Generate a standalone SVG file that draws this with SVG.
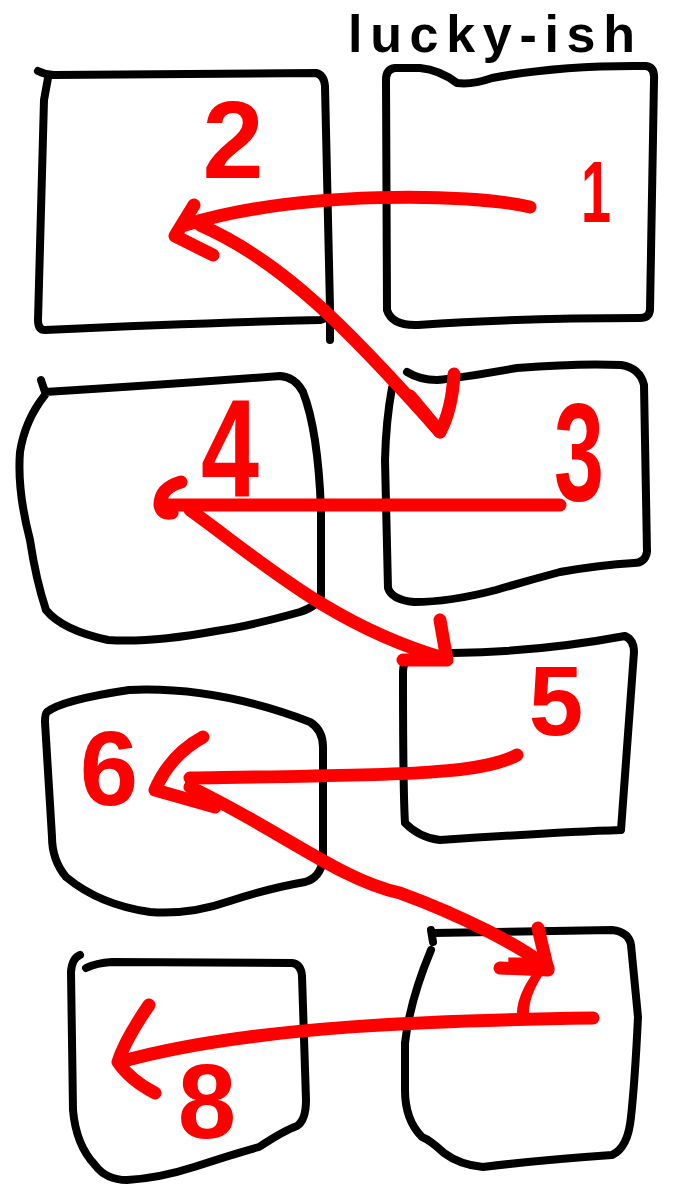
<svg xmlns="http://www.w3.org/2000/svg" width="675" height="1200" viewBox="0 0 675 1200">
<style>
.box{fill:none;stroke:#000;stroke-width:8;stroke-linecap:round;stroke-linejoin:round}
.arr{fill:none;stroke:#ff0000;stroke-width:13;stroke-linecap:round;stroke-linejoin:round}
.num{fill:#ff0000;font-family:"Liberation Sans",Arial,sans-serif;font-weight:bold;text-anchor:middle}
.title{fill:#000;font-family:"Liberation Sans",Arial,sans-serif;font-weight:bold}
</style>
<rect width="675" height="1200" fill="#fff"/>
<text class="title" x="348" y="52" font-size="52" textLength="287" lengthAdjust="spacing">lucky-ish</text>

<g id="node-1">
<path class="box" d="M386,80 Q386,69 395,68 L420,68 Q440,70 457,83 Q472,85 492,78 Q560,65 646,66 Q655,67 654,80 L650,310 Q649,318 640,318 Q520,318 418,325 Q392,326 387,310 Z"/>
<text class="num" x="596" y="222" font-size="88" textLength="30" lengthAdjust="spacingAndGlyphs">1</text>
</g>
<g id="node-2">
<path class="box" d="M38,71 Q46,75 54,75 L316,73 Q324,75 325,86 L330,308 Q330,318 320,320 Q200,323 45,330 Q38,330 38,320 L44,100 L48,78"/>
<path class="box" d="M330,318 L330,340"/>
<text class="num" x="233" y="178" font-size="110">2</text>
</g>
<g id="node-3">
<path class="box" d="M407,372 Q420,380 437,380 Q460,378 517,368 Q580,363 621,365 Q640,368 644,385 L647,552 Q645,563 634,563 Q600,565 560,572 Q530,580 496,590 Q450,602 414,602 Q392,600 388,588 L385,460 Q386,420 392,388"/>
<text class="num" x="579" y="500" font-size="140" textLength="50" lengthAdjust="spacingAndGlyphs">3</text>
</g>
<g id="node-4">
<path class="box" d="M41,380 L45,392 Q160,385 280,376 Q295,377 303,392 Q318,430 321,510 L321,596 Q318,606 300,612 Q250,626 216,631 Q150,643 108,640 Q62,630 46,610 Q36,580 30,540 Q17,490 20,452 Q25,420 45,395"/>
<text class="num" x="230" y="497" font-size="140" textLength="58" lengthAdjust="spacingAndGlyphs">4</text>
</g>
<g id="node-5">
<path class="box" d="M453,653 Q539,652 625,636 Q634,640 634,652 L621,830 Q560,832 440,840 Q420,838 405,823 Q403,790 403,672 Q403,656 420,655 L453,653"/>
<text class="num" x="556" y="735" font-size="98">5</text>
</g>
<g id="node-6">
<path class="box" d="M47,712 Q62,700 129,690 Q216,686 310,722 Q323,730 323,747 L323,860 Q320,878 305,882 Q270,888 230,901 Q190,915 150,912 Q100,905 66,877 Q52,860 52,837 L45,722 Q45,714 47,712"/>
<text class="num" x="109" y="805" font-size="105">6</text>
</g>
<g id="node-7">
<path class="box" d="M431,930 L433,942 M433,933 L612,930 Q629,932 631,945 L638,1017 Q635,1080 631,1117 Q628,1148 612,1155 Q540,1160 483,1167 Q460,1165 444,1153 Q430,1140 422,1137 Q405,1120 405,1090 L405,1043 Q410,1000 431,950"/>
<text class="num" x="528" y="1015" font-size="84">7</text>
</g>
<g id="node-8">
<path class="box" d="M80,955 Q72,958 71,972 L73,1110 Q76,1145 95,1165 Q106,1180 127,1180 Q160,1178 194,1167 Q240,1152 259,1147 Q285,1130 297,1126 Q306,1120 306,1100 L302,976 Q301,964 292,963 L112,962 Q96,963 86,968"/>
<text class="num" x="207" y="1138" font-size="105">8</text>
</g>

<g id="connectors">
<path class="arr" d="M530,207 C470,193 300,190 185,225"/>
<path class="arr" d="M194,205 L175,236 L213,255"/>
<path class="arr" d="M200,225 C280,260 345,325 440,432"/>
<path class="arr" d="M410,396 L440,432 Q452,410 454,374"/>
<path class="arr" d="M560,505 L168,505"/>
<path class="arr" d="M181,482 Q160,488 160,505 Q162,515 172,513"/>
<path class="arr" d="M190,510 C260,560 330,625 443,658"/>
<path class="arr" d="M440,620 L447,660 L403,660"/>
<path class="arr" d="M517,755 C480,775 400,775 190,778"/>
<path class="arr" d="M203,737 Q170,755 155,790 L215,807"/>
<path class="arr" d="M190,787 C280,830 340,880 400,893 C460,915 520,945 548,968"/>
<path class="arr" d="M538,928 L548,970 L500,968"/>
<path class="arr" d="M593,1018 C450,1020 250,1025 120,1062"/>
<path class="arr" d="M149,1005 Q125,1040 118,1062 Q130,1080 155,1093"/>
</g>
</svg>
